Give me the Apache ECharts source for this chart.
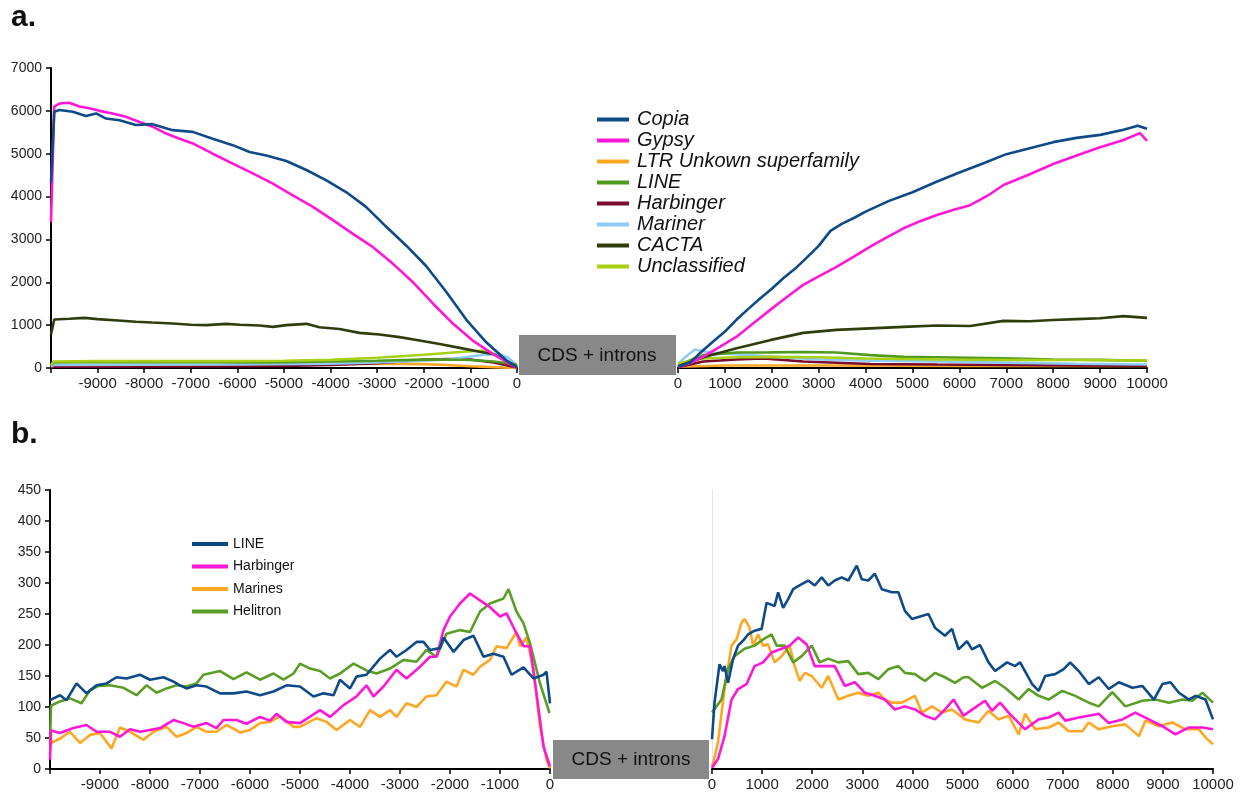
<!DOCTYPE html>
<html>
<head>
<meta charset="utf-8">
<title>TE density around genes</title>
<script src="https://cdn.jsdelivr.net/npm/echarts@6/dist/echarts.min.js"></script>
<style>
  html, body { margin: 0; padding: 0; background: #fff; }
  #chart { width: 1244px; height: 794px; }
</style>
</head>
<body>
<div id="chart"></div>
<script>
// ---- panel a : upstream (-10000..0) ----
var copiaUp = [[-10000,4340],[-9930,5980],[-9820,6020],[-9530,5980],[-9250,5880],[-9030,5940],[-8820,5820],[-8530,5780],[-8180,5670],[-7820,5690],[-7390,5550],[-6960,5510],[-6530,5350],[-6100,5200],[-5740,5040],[-5380,4960],[-4950,4830],[-4520,4620],[-4090,4380],[-3660,4100],[-3240,3760],[-2810,3300],[-2380,2860],[-1950,2380],[-1520,1780],[-1090,1130],[-660,600],[-230,180],[0,20]];
var gypsyUp = [[-10000,3410],[-9930,6100],[-9820,6170],[-9610,6190],[-9390,6100],[-9180,6060],[-8960,6000],[-8680,5940],[-8390,5860],[-8100,5740],[-7820,5630],[-7530,5470],[-7240,5350],[-6960,5240],[-6530,5000],[-6100,4770],[-5670,4540],[-5240,4300],[-4810,4030],[-4380,3760],[-3950,3450],[-3520,3130],[-3090,2820],[-2660,2430],[-2230,2000],[-1800,1500],[-1370,1030],[-950,640],[-520,330],[0,0]];
var ltrUp = [[-10000,20],[-9950,50],[-9000,55],[-8000,60],[-7000,65],[-6000,60],[-5000,70],[-4000,90],[-3000,100],[-2000,90],[-1500,70],[-1000,40],[-500,20],[0,0]];
var lineUpA = [[-10000,60],[-9950,130],[-9000,140],[-8000,135],[-7000,140],[-6000,130],[-5000,135],[-4000,150],[-3000,170],[-2000,195],[-1500,200],[-1000,185],[-500,150],[-200,110],[0,80]];
var harbUpA = [[-10000,10],[-9950,30],[-9000,30],[-8000,35],[-7000,35],[-6000,40],[-5000,45],[-4000,70],[-3000,110],[-2500,150],[-2000,190],[-1500,210],[-1000,200],[-500,130],[0,10]];
var marinerUp = [[-10000,30],[-9950,70],[-8000,75],[-6000,80],[-4000,100],[-3000,130],[-2000,170],[-1500,200],[-1000,270],[-700,310],[-400,330],[-200,250],[0,60]];
var cactaUp = [[-10000,780],[-9930,1130],[-9600,1150],[-9280,1170],[-9000,1140],[-8560,1110],[-8180,1080],[-7830,1060],[-7390,1040],[-7000,1010],[-6670,1000],[-6240,1030],[-5950,1010],[-5530,990],[-5240,960],[-4950,1000],[-4520,1030],[-4240,950],[-3810,910],[-3380,820],[-2950,780],[-2520,720],[-2090,640],[-1660,560],[-1230,470],[-800,380],[-500,320],[-230,170],[0,20]];
var unclassUp = [[-10000,60],[-9950,150],[-9000,160],[-8000,160],[-7000,165],[-6000,160],[-5000,170],[-4000,190],[-3000,240],[-2000,310],[-1500,350],[-1000,390],[-700,410],[-500,330],[-200,150],[0,40]];

// ---- panel a : downstream (0..10000) ----
var copiaDown = [[0,30],[250,120],[500,380],[750,620],[1000,850],[1250,1130],[1500,1380],[1750,1620],[2000,1850],[2250,2100],[2500,2320],[2750,2580],[3000,2850],[3250,3200],[3500,3370],[3750,3500],[4000,3650],[4500,3900],[5000,4100],[5500,4340],[6000,4560],[6500,4770],[7000,4990],[7500,5130],[8000,5270],[8500,5370],[9000,5440],[9500,5560],[9800,5650],[10000,5580]];
var gypsyDown = [[0,20],[250,110],[540,265],[900,500],[1250,730],[1600,1040],[1960,1350],[2300,1640],[2670,1940],[3000,2140],[3380,2360],[3750,2600],[4100,2830],[4450,3050],[4810,3260],[5150,3420],[5520,3570],[5900,3700],[6230,3800],[6600,4020],[6940,4270],[7500,4520],[8000,4760],[8500,4960],[9000,5150],[9500,5320],[9850,5480],[10000,5300]];
var ltrDown = [[0,30],[1000,60],[3000,60],[6000,50],[10000,45]];
var lineDownA = [[0,60],[300,200],[540,300],[1250,360],[1960,365],[2670,373],[3380,360],[4100,300],[4810,260],[5520,250],[6940,225],[8000,200],[9000,190],[10000,170]];
var harbDownA = [[0,20],[540,150],[1250,200],[1820,225],[2670,150],[4100,95],[5520,80],[6940,70],[8500,60],[10000,55]];
var marinerDown = [[0,90],[150,250],[360,430],[600,380],[970,340],[1500,300],[1960,265],[3030,200],[4100,170],[5520,150],[6940,125],[8500,100],[10000,80]];
var cactaDown = [[0,40],[540,250],[1250,460],[1960,650],[2670,820],[3380,890],[4100,925],[4810,960],[5520,990],[6230,980],[6940,1100],[7500,1090],[8000,1120],[8500,1140],[9000,1160],[9500,1210],[10000,1170]];
var unclassDown = [[0,100],[540,220],[1250,250],[2000,260],[3000,250],[4000,220],[5500,200],[7000,190],[8500,185],[10000,175]];

// ---- panel b : upstream ----
var lineUpB = [[-10000,111],[-9800,119],[-9670,111],[-9470,138],[-9270,122],[-9070,135],[-8870,138],[-8670,148],[-8470,146],[-8200,152],[-8000,144],[-7730,148],[-7530,141],[-7400,135],[-7270,130],[-7070,135],[-6870,133],[-6600,122],[-6330,122],[-6070,125],[-5800,119],[-5530,125],[-5270,135],[-5000,133],[-4730,117],[-4530,122],[-4330,119],[-4200,144],[-4000,130],[-3870,149],[-3670,152],[-3400,178],[-3200,192],[-3070,181],[-2870,192],[-2670,205],[-2530,205],[-2400,192],[-2200,195],[-2130,212],[-1930,189],[-1730,208],[-1530,215],[-1330,181],[-1130,186],[-930,181],[-770,152],[-530,164],[-330,146],[-130,152],[-70,157],[0,106]];
var helitronUpB = [[-10000,40],[-9980,102],[-9800,109],[-9600,114],[-9370,106],[-9200,127],[-9030,134],[-8800,135],[-8530,131],[-8270,119],[-8070,135],[-7870,123],[-7670,130],[-7470,135],[-7270,133],[-7070,138],[-6930,152],[-6600,158],[-6330,145],[-6070,156],[-5800,144],[-5530,154],[-5330,144],[-5130,154],[-5000,170],[-4800,162],[-4600,158],[-4400,146],[-4200,154],[-3930,170],[-3670,159],[-3470,154],[-3200,162],[-2930,176],[-2670,173],[-2470,192],[-2270,181],[-2070,218],[-1800,224],[-1600,221],[-1400,254],[-1200,267],[-930,275],[-830,290],[-670,254],[-530,235],[-400,203],[-200,138],[-10,90]];
var harbUpB = [[-10000,15],[-9980,62],[-9800,58],[-9530,66],[-9270,71],[-9070,60],[-8800,60],[-8600,52],[-8400,64],[-8200,60],[-8000,63],[-7800,66],[-7530,79],[-7330,74],[-7130,68],[-6870,74],[-6670,66],[-6530,79],[-6270,79],[-6070,73],[-5800,84],[-5600,78],[-5470,89],[-5270,76],[-5000,74],[-4600,95],[-4400,84],[-4130,103],[-3870,117],[-3670,135],[-3530,117],[-3330,133],[-3070,160],[-2870,146],[-2600,165],[-2400,181],[-2270,181],[-2130,224],[-2000,246],[-1800,267],[-1600,283],[-1400,272],[-1200,261],[-1000,246],[-870,251],[-670,219],[-530,198],[-400,198],[-270,122],[-130,36],[0,4]];
var marinesUpB = [[-10000,30],[-9980,42],[-9800,49],[-9600,60],[-9400,42],[-9200,55],[-9000,58],[-8770,33],[-8600,67],[-8400,60],[-8130,47],[-7930,60],[-7670,68],[-7470,52],[-7270,58],[-7070,68],[-6870,60],[-6670,60],[-6470,71],[-6200,59],[-6000,63],[-5800,74],[-5600,76],[-5400,85],[-5130,68],[-5000,68],[-4670,82],[-4470,76],[-4270,63],[-4000,79],[-3800,68],[-3600,95],[-3400,84],[-3200,95],[-3070,84],[-2870,106],[-2670,100],[-2470,117],[-2270,119],[-2070,141],[-1870,133],[-1730,160],[-1530,152],[-1400,165],[-1200,176],[-1070,198],[-870,195],[-670,221],[-600,198],[-470,212],[-330,160],[-200,68],[-70,15],[0,1]];

// ---- panel b : downstream ----
var lineDownB = [[0,48],[50,107],[150,169],[220,158],[250,166],[320,139],[420,177],[520,199],[620,207],[720,217],[850,223],[990,226],[1090,268],[1250,263],[1320,285],[1420,260],[1520,274],[1620,290],[1790,298],[1920,304],[2050,296],[2190,309],[2320,296],[2450,304],[2590,309],[2720,304],[2890,328],[2990,306],[3120,304],[3250,315],[3390,290],[3590,285],[3720,285],[3850,255],[3990,242],[4120,245],[4320,250],[4450,228],[4650,215],[4790,226],[4920,193],[5090,206],[5190,193],[5350,200],[5520,172],[5650,158],[5890,172],[6050,166],[6150,172],[6390,137],[6520,126],[6650,150],[6850,153],[7020,161],[7150,172],[7320,158],[7520,137],[7720,148],[7920,129],[8120,140],[8390,131],[8590,134],[8820,112],[8990,137],[9150,140],[9320,123],[9520,112],[9650,118],[9850,112],[10000,80]];
var helitronDownB = [[0,91],[190,112],[320,161],[450,182],[650,194],[850,199],[1020,209],[1190,217],[1290,199],[1450,199],[1620,172],[1790,182],[1990,199],[2150,172],[2320,178],[2520,172],[2720,174],[2920,153],[3120,155],[3320,145],[3520,161],[3720,166],[3850,155],[4050,153],[4250,142],[4450,155],[4650,148],[4850,139],[5020,148],[5120,148],[5390,131],[5650,142],[5850,131],[6120,112],[6320,129],[6520,118],[6720,112],[6990,126],[7250,118],[7520,107],[7720,101],[7990,124],[8250,101],[8590,110],[8850,112],[9120,107],[9390,112],[9590,110],[9790,123],[10000,107]];
var harbDownB = [[0,2],[120,16],[250,53],[390,112],[520,129],[690,137],[850,166],[1020,172],[1190,188],[1390,194],[1550,199],[1720,212],[1890,201],[2050,166],[2250,166],[2450,166],[2650,134],[2850,140],[3050,123],[3250,118],[3450,112],[3650,96],[3850,101],[4050,96],[4250,86],[4450,80],[4650,96],[4820,112],[5020,86],[5250,99],[5450,110],[5590,94],[5750,107],[5920,91],[6250,64],[6520,80],[6720,83],[6920,91],[7050,78],[7320,83],[7520,86],[7720,89],[7920,74],[8190,80],[8450,91],[8720,80],[8990,69],[9250,56],[9520,67],[9790,67],[10000,64]];
var marinesDownB = [[0,2],[120,43],[250,129],[390,199],[490,209],[590,236],[650,242],[750,228],[820,199],[920,217],[1020,199],[1120,201],[1250,172],[1390,182],[1550,199],[1650,166],[1750,142],[1850,155],[1990,150],[2190,131],[2320,150],[2520,112],[2720,118],[2920,123],[3120,118],[3320,123],[3450,112],[3590,107],[3790,107],[4050,118],[4190,91],[4390,101],[4590,91],[4790,96],[5050,80],[5320,75],[5520,94],[5720,80],[5920,86],[6120,56],[6250,89],[6450,64],[6720,67],[6920,75],[7120,61],[7390,61],[7520,75],[7720,64],[7990,69],[8250,72],[8520,53],[8650,78],[8920,69],[9190,75],[9450,64],[9720,64],[9850,51],[10000,40]];

var legendA = ['Copia', 'Gypsy', 'LTR Unkown superfamily', 'LINE', 'Harbinger', 'Mariner', 'CACTA', 'Unclassified'];
var legendB = ['b:LINE', 'b:Harbinger', 'b:Marines', 'b:Helitron'];

var FONT = 'Liberation Sans, Arial, sans-serif';
var col = {
  blue: '#0e4a87', magenta: '#ff17d8', orange: '#ffa623', green: '#4f9b20',
  darkred: '#7c0a2c', light: '#8ecbf6', olive: '#2f3d0b', yellow: '#a8d014', helitron: '#5a9e26'
};

function xAxis(grid, min, max, hideMin) {
  return {
    type: 'value', gridIndex: grid, min: min, max: max, interval: 1000,
    axisLine: { onZero: false, lineStyle: { color: '#000', width: 2 } },
    axisTick: { length: 5, lineStyle: { color: '#000', width: 1.5 } },
    axisLabel: {
      color: '#222', fontSize: 15, fontFamily: FONT, margin: 8,
      showMinLabel: true, showMaxLabel: true,
      formatter: function (v) { return (hideMin && v === min) ? '' : String(v); }
    },
    splitLine: { show: false }
  };
}
function yAxis(grid, max, interval, visible) {
  return {
    type: 'value', gridIndex: grid, min: 0, max: max, interval: interval,
    axisLine: { show: true, onZero: false, lineStyle: { color: visible ? '#000' : 'rgba(0,0,0,0)', width: 2 } },
    axisTick: { show: visible, length: 5, lineStyle: { color: '#000', width: 1.5 } },
    axisLabel: {
      show: visible, color: '#222', fontSize: 14, fontFamily: FONT, margin: 9,
      formatter: function (v) { return String(v); }
    },
    splitLine: { show: false }
  };
}
function line(name, data, color, xi, w) {
  return {
    name: name, type: 'line', data: data, xAxisIndex: xi, yAxisIndex: xi,
    showSymbol: false, symbol: 'none', animation: false,
    lineStyle: { color: color, width: w || 2.6 }, itemStyle: { color: color },
    z: 2
  };
}

var yB2 = yAxis(3, 450, 50, false);
yB2.axisLine.lineStyle.color = '#e6e6e6';
yB2.axisLine.lineStyle.width = 1;

var option = {
  backgroundColor: '#fff',
  animation: false,
  grid: [
    { left: 51, right: 727, top: 68, bottom: 426 },
    { left: 678, right: 97, top: 68, bottom: 426 },
    { left: 50, right: 694, top: 490, bottom: 25 },
    { left: 712, right: 31, top: 490, bottom: 25 }
  ],
  xAxis: [
    xAxis(0, -10000, 0, true),
    xAxis(1, 0, 10000, false),
    xAxis(2, -10000, 0, true),
    xAxis(3, 0, 10000, false)
  ],
  yAxis: [
    yAxis(0, 7000, 1000, true),
    yAxis(1, 7000, 1000, false),
    yAxis(2, 450, 50, true),
    yB2
  ],
  legend: [
    {
      data: legendA, orient: 'vertical', left: 592, top: 104,
      icon: 'rect', itemWidth: 32, itemHeight: 4, itemGap: 0,
      selectedMode: false,
      textStyle: { fontStyle: 'italic', fontSize: 20, fontFamily: FONT, color: '#111', lineHeight: 21, padding: [0, 0, 0, 3] }
    },
    {
      data: legendB, orient: 'vertical', left: 187, top: 528,
      icon: 'rect', itemWidth: 36, itemHeight: 4, itemGap: 0.5,
      selectedMode: false,
      formatter: function (n) { return n.slice(2); },
      textStyle: { fontSize: 14, fontFamily: FONT, color: '#111', lineHeight: 22 }
    }
  ],
  series: [
    line('LTR Unkown superfamily', ltrUp, col.orange, 0),
    line('Harbinger', harbUpA, col.darkred, 0),
    line('Mariner', marinerUp, col.light, 0),
    line('LINE', lineUpA, col.green, 0),
    line('Unclassified', unclassUp, col.yellow, 0),
    line('CACTA', cactaUp, col.olive, 0),
    line('Gypsy', gypsyUp, col.magenta, 0),
    line('Copia', copiaUp, col.blue, 0),

    line('LTR Unkown superfamily', ltrDown, col.orange, 1),
    line('Harbinger', harbDownA, col.darkred, 1),
    line('Mariner', marinerDown, col.light, 1),
    line('LINE', lineDownA, col.green, 1),
    line('Unclassified', unclassDown, col.yellow, 1),
    line('CACTA', cactaDown, col.olive, 1),
    line('Gypsy', gypsyDown, col.magenta, 1),
    line('Copia', copiaDown, col.blue, 1),

    line('b:Marines', marinesUpB, col.orange, 2),
    line('b:Helitron', helitronUpB, col.helitron, 2),
    line('b:Harbinger', harbUpB, col.magenta, 2),
    line('b:LINE', lineUpB, col.blue, 2),

    line('b:Marines', marinesDownB, col.orange, 3),
    line('b:Helitron', helitronDownB, col.helitron, 3),
    line('b:Harbinger', harbDownB, col.magenta, 3),
    line('b:LINE', lineDownB, col.blue, 3)
  ],
  graphic: [
    { type: 'text', left: 11, top: 3, style: { text: 'a.', font: 'bold 30px ' + FONT, fill: '#111' } },
    { type: 'text', left: 11, top: 420, style: { text: 'b.', font: 'bold 30px ' + FONT, fill: '#111' } },
    { type: 'rect', shape: { x: 519, y: 335, width: 157, height: 40 }, style: { fill: '#888' }, z: 100 },
    { type: 'text', z: 101, style: { text: 'CDS + introns', x: 597, y: 356, textAlign: 'center', textVerticalAlign: 'middle', font: '19px ' + FONT, fill: '#111' } },
    { type: 'rect', shape: { x: 553, y: 740, width: 156, height: 39 }, style: { fill: '#888' }, z: 100 },
    { type: 'text', z: 101, style: { text: 'CDS + introns', x: 631, y: 760, textAlign: 'center', textVerticalAlign: 'middle', font: '19px ' + FONT, fill: '#111' } }
  ]
};

var myChart = echarts.init(document.getElementById('chart'));
myChart.setOption(option);
</script>
</body>
</html>
